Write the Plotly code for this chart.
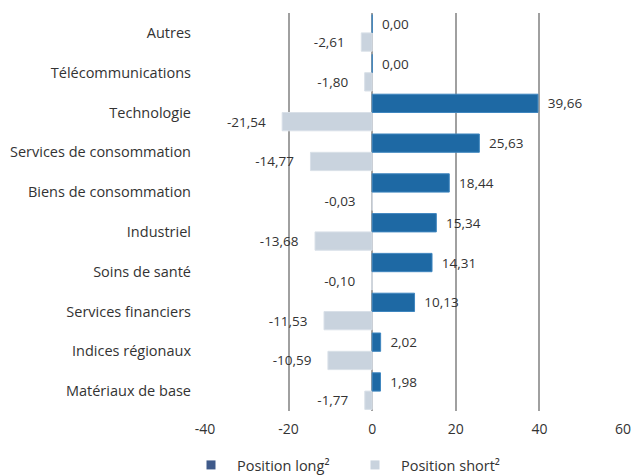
import plotly.graph_objects as go

categories = ["Autres", "Télécommunications", "Technologie", "Services de consommation",
              "Biens de consommation", "Industriel", "Soins de santé", "Services financiers",
              "Indices régionaux", "Matériaux de base"]
long_values = [0.00, 0.00, 39.66, 25.63, 18.44, 15.34, 14.31, 10.13, 2.02, 1.98]
short_values = [-2.61, -1.80, -21.54, -14.77, -0.03, -13.68, -0.10, -11.53, -10.59, -1.77]
x_ticks = [-40, -20, 0, 20, 40, 60]
x_tick_labels = ["-40", "-20", "0", "20", "40", "60"]

LONG_C = "#1E69A4"
SHORT_C = "#C9D3DE"
FONT = "Open Sans"
TXT = "#333333"
FS = 13.5

fig = go.Figure()
fig.add_trace(go.Bar(
    y=categories, x=short_values, orientation="h", name="Position short²",
    marker=dict(color=SHORT_C, line=dict(color="#D9E0E8", width=1)),
    texttemplate="%{x:.2f}\u2003", textposition="outside", constraintext="none",
    textfont=dict(family=FONT, size=FS, color=TXT), cliponaxis=False, showlegend=False))
fig.add_trace(go.Bar(
    y=categories, x=long_values, orientation="h", name="Position long²",
    marker=dict(color=LONG_C, line=dict(color="#3F86BF", width=1)),
    texttemplate="\u2002%{x:.2f}", textposition="outside", constraintext="none",
    textfont=dict(family=FONT, size=FS, color=TXT), cliponaxis=False, showlegend=False))
# legend entries
fig.add_trace(go.Scatter(y=[None], x=[None], mode="markers", name="Position long²",
                         marker=dict(color="#3F5A8A", symbol="square", size=9), showlegend=True))
fig.add_trace(go.Scatter(y=[None], x=[None], mode="markers", name="Position short²",
                         marker=dict(color=SHORT_C, symbol="square", size=9), showlegend=True))

fig.update_layout(
    width=633, height=475,
    margin=dict(l=205, r=10, t=13, b=64, autoexpand=False),
    plot_bgcolor="white", paper_bgcolor="white",
    barmode="group", bargap=0.08, bargroupgap=0,
    separators=", ",
    font=dict(family=FONT, size=FS, color=TXT),
    xaxis=dict(range=[-40, 60], tickvals=x_ticks, ticktext=x_tick_labels, showgrid=True,
               gridcolor="#A0A0A0", gridwidth=1.5, zeroline=False, showline=False, ticks="",
               automargin=False, ticklabelstandoff=8,
               tickfont=dict(family=FONT, size=14, color=TXT)),
    yaxis=dict(categoryorder="array", categoryarray=categories[::-1], showgrid=False,
               zeroline=False, showline=False, ticks="", ticklabelstandoff=13,
               automargin=False, tickfont=dict(family=FONT, size=14.5, color=TXT)),
    legend=dict(orientation="h", xref="container", x=185 / 633, xanchor="left",
                yref="container", y=10 / 475, yanchor="middle",
                font=dict(family=FONT, size=14.5, color=TXT), traceorder="normal",
                entrywidth=107, itemwidth=42),
)

fig.write_html("out.html", config={"displayModeBar": False},
               post_script="document.body.style.margin='0';")
